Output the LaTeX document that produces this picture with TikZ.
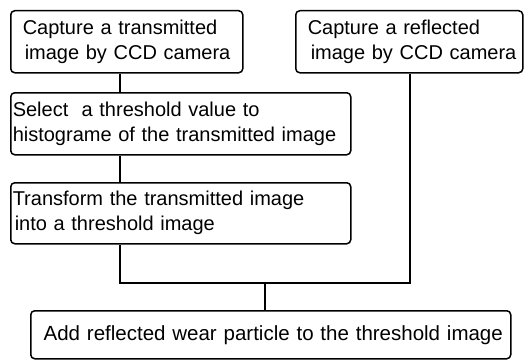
\documentclass[tikz,border=0pt]{standalone}
\usepackage{fontspec}
\setmainfont{Liberation Sans}
\begin{document}
\begin{tikzpicture}[x=1pt,y=-1pt,
  box/.style={draw, line width=1.5pt, rounded corners=4pt, inner xsep=0pt, inner ysep=0pt,
    font=\fontsize{20}{25}\selectfont, align=left, anchor=north west},
  wire/.style={line width=1.5pt}]
\useasboundingbox (0,0) rectangle (529,361);
\node[box, minimum height=62pt, text width=232pt] (a) at (10,10)
  {\hspace*{12pt}\mbox{Capture a transmitted}\\\hspace*{14pt}\mbox{image by CCD camera}};
\node[box, minimum height=62pt, text width=227pt] (b) at (295,10)
  {\hspace*{12pt}\mbox{Capture a reflected}\\\hspace*{15pt}\mbox{image by CCD camera}};
\node[box, minimum height=62pt, text width=340pt] (c) at (10,92)
  {\hspace*{2pt}\mbox{Select\ \ a threshold value to}\\\hspace*{2pt}\mbox{histograme of the transmitted image}};
\node[box, minimum height=61pt, text width=340pt] (d) at (10,182)
  {\hspace*{2pt}\mbox{Transform the transmitted image}\\\hspace*{4pt}\mbox{into a threshold image}};
\node[box, minimum height=48pt, text width=480pt, align=center,
  font=\fontsize{20.5}{25}\selectfont] (e) at (30,310)
  {\hspace*{5pt}\mbox{Add reflected wear particle to the threshold image}};
\coordinate (jl) at (120,283);
\coordinate (jr) at (410,283);
\coordinate (jc) at (265,283);
\draw[wire] (a.south -| jl) -- (c.north -| jl);
\draw[wire] (c.south -| jl) -- (d.north -| jl);
\draw[wire] (d.south -| jl) -- (jl) -- (jr) -- (b.south -| jr);
\draw[wire] (jc) -- (e.north -| jc);
\end{tikzpicture}
\end{document}
